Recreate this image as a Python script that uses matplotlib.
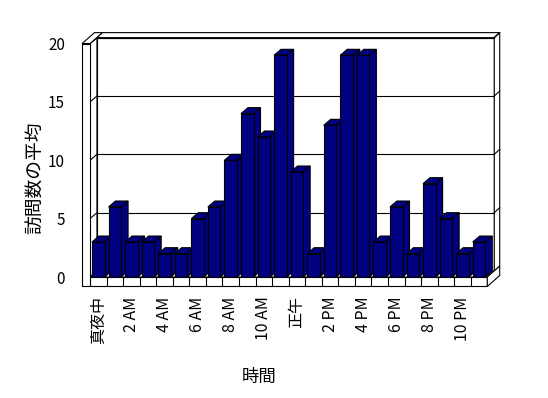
import numpy as np
import matplotlib
matplotlib.use('Agg')
import matplotlib.pyplot as plt
from matplotlib.patches import Polygon

plt.rcParams['font.family'] = ['Noto Sans CJK JP', 'DejaVu Sans']

# data
visits = [3, 6, 3, 3, 2, 2, 5, 6, 10, 14, 12, 19, 9, 2, 13, 19, 19, 3, 6, 2, 8, 5, 2, 3]
hour_labels = ['真夜中', '2 AM', '4 AM', '6 AM', '8 AM', '10 AM',
               '正午', '2 PM', '4 PM', '6 PM', '8 PM', '10 PM']
y_ticks = [0, 5, 10, 15, 20]
y_label = '訪問数の平均'
x_label = '時間'

bar_color = '#000080'
lw = 0.8

fig = plt.figure(figsize=(5.48, 3.98), dpi=100)
ax = fig.add_axes([90 / 548, 121 / 398, 397.3 / 548, 233.4 / 398])
n = len(visits)
ymax = y_ticks[-1]
ax.set_xlim(-0.5, n - 0.5)
ax.set_ylim(0, ymax)
ax.patch.set_visible(False)
for s in ax.spines.values():
    s.set_visible(False)

# 3d look: depth vector, wall thickness, floor thickness (data units)
dx, dy = 0.42, 0.51
tx, ty = 0.33, 0.43
wall_w = 0.48
floor_h = 0.81
x0, x1 = -0.5, n - 0.5


def face(pts, z, fc='white'):
    ax.add_patch(Polygon(pts, closed=True, facecolor=fc, edgecolor='black',
                         linewidth=lw, zorder=z, clip_on=False))


# back wall
face([(x0 + dx, dy), (x1 + dx, dy), (x1 + dx, ymax + dy), (x0 + dx, ymax + dy)], 1)
face([(x0 + dx, ymax + dy), (x1 + dx, ymax + dy),
      (x1 + dx + tx, ymax + dy + ty), (x0 + dx + tx, ymax + dy + ty)], 1)
face([(x1 + dx, dy), (x1 + dx, ymax + dy),
      (x1 + dx + tx, ymax + dy + ty), (x1 + dx + tx, dy + ty)], 1)
# left wall inner side
face([(x0, 0), (x0, ymax), (x0 + dx, ymax + dy), (x0 + dx, dy)], 1)

# gridlines
for v in y_ticks[1:]:
    ax.plot([x0 + dx, x1 + dx], [v + dy, v + dy], color='black', lw=lw, zorder=2, clip_on=False)
    ax.plot([x0, x0 + dx], [v, v + dy], color='black', lw=lw, zorder=2, clip_on=False)
    ax.plot([x1 + dx, x1 + dx + tx], [v + dy, v + dy + ty], color='black', lw=lw, zorder=2, clip_on=False)

# floor top
face([(x0, 0), (x1, 0), (x1 + dx, dy), (x0 + dx, dy)], 3)

# bars
xs = np.arange(n)
bw = 0.76
hw = bw / 2
bars = ax.bar(xs, visits, width=bw, color=bar_color, edgecolor='black', linewidth=lw)
for i, (b, v) in enumerate(zip(bars, visits)):
    b.set_zorder(10 + 2 * i)
    x = xs[i]
    face([(x - hw, v), (x + hw, v), (x + hw + dx, v + dy), (x - hw + dx, v + dy)], 10 + 2 * i - 1, bar_color)
    face([(x + hw, 0), (x + hw, v), (x + hw + dx, v + dy), (x + hw + dx, dy)], 10 + 2 * i - 1, bar_color)

# floor front and right side
face([(x0, -floor_h), (x1, -floor_h), (x1, 0), (x0, 0)], 80)
face([(x1, -floor_h), (x1, 0), (x1 + dx + tx, dy + ty), (x1 + dx + tx, -floor_h + dy + ty)], 80)
for k in range(1, n):
    ax.plot([k - 0.5, k - 0.5], [-floor_h, 0], color='black', lw=lw, zorder=81, clip_on=False)

# left wall front and top
face([(x0 - wall_w, -floor_h), (x0, -floor_h), (x0, ymax), (x0 - wall_w, ymax)], 82)
face([(x0 - wall_w, ymax), (x0, ymax), (x0 + dx + tx, ymax + dy + ty),
      (x0 - wall_w + dx + tx, ymax + dy + ty)], 82)

# ticks and labels
ax.set_yticks(y_ticks)
ax.set_yticklabels([str(t) for t in y_ticks], fontsize=11)
ax.tick_params(axis='y', length=0, pad=18)
ax.set_xticks(xs[::2])
ax.set_xticklabels(hour_labels, rotation=90, fontsize=11.5)
ax.tick_params(axis='x', length=0, pad=14)

fig.text(36 / 548, 1 - 178 / 398, y_label, rotation=90, ha='center', va='center', fontsize=13.5)
fig.text(259 / 548, 1 - 377 / 398, x_label, ha='center', va='center', fontsize=12.5)

fig.savefig('out.png', dpi=100)
